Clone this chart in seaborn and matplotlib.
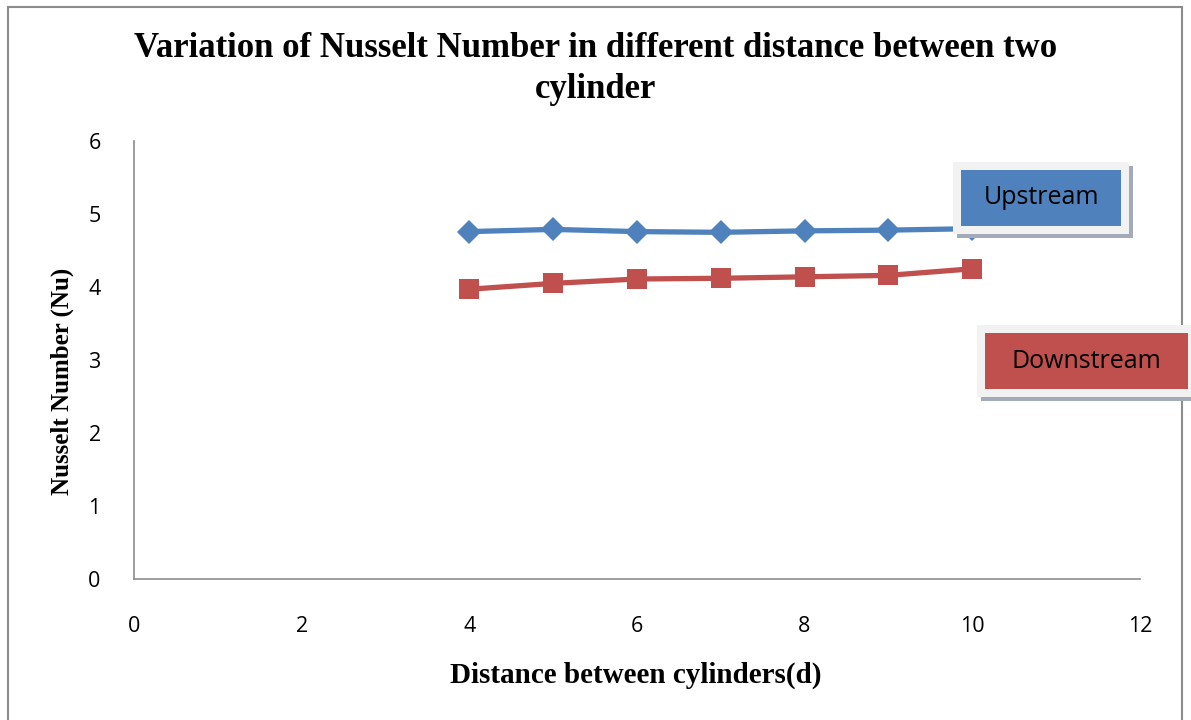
import matplotlib
matplotlib.use("Agg")
import matplotlib.pyplot as plt
import seaborn as sns
import pandas as pd
from matplotlib.patches import Rectangle

distance = [4, 5, 6, 7, 8, 9, 10]
upstream = [4.76, 4.79, 4.76, 4.75, 4.77, 4.78, 4.80]
downstream = [3.97, 4.05, 4.11, 4.12, 4.14, 4.16, 4.25]
series_names = ["Upstream", "Downstream"]
colors = ["#4F81BD", "#C0504D"]

df = pd.concat([
    pd.DataFrame({"d": distance, "Nu": upstream, "series": series_names[0]}),
    pd.DataFrame({"d": distance, "Nu": downstream, "series": series_names[1]}),
])

sns.set_theme(style="white")
plt.rcParams["font.family"] = ["Open Sans", "DejaVu Sans"]
plt.rcParams["text.color"] = "black"

fig = plt.figure(figsize=(11.91, 7.2), dpi=100)
ax = fig.add_axes([0.1125, 0.196, 0.957 - 0.1125, 0.804 - 0.196])

sns.lineplot(data=df[df.series == series_names[0]], x="d", y="Nu", ax=ax,
             color=colors[0], marker="D", markersize=12.5, linewidth=3.8,
             markeredgewidth=0, legend=False)
sns.lineplot(data=df[df.series == series_names[1]], x="d", y="Nu", ax=ax,
             color=colors[1], marker="s", markersize=14, linewidth=3.8,
             markeredgewidth=0, legend=False)

ax.set_xlim(0, 12)
ax.set_ylim(0, 6)
ax.set_xticks(range(0, 13, 2))
ax.set_yticks(range(0, 7))
ax.tick_params(axis="both", length=0, labelsize=15.5, colors="black")
ax.tick_params(axis="x", pad=27)
ax.tick_params(axis="y", pad=24)
for s in ["top", "right"]:
    ax.spines[s].set_visible(False)
for s in ["left", "bottom"]:
    ax.spines[s].set_color("#8C8C8C")
    ax.spines[s].set_linewidth(1.2)

serif = ["Liberation Serif", "DejaVu Serif"]
ax.set_xlabel("Distance between cylinders(d)", fontsize=21, fontweight="bold",
              family=serif, color="black", va="center")
ax.xaxis.set_label_coords(0.499, (579 - 676) / 438)
ax.set_ylabel("Nusselt Number (Nu)", fontsize=18, fontweight="bold",
              family=serif, color="black", va="center")
ax.yaxis.set_label_coords((62 - 134) / 1006, (579 - 381) / 438)
fig.text(0.5, 1 - 69 / 720, "Variation of Nusselt Number in different distance between two\ncylinder",
         ha="center", va="center", fontsize=25, fontweight="bold", family=serif,
         linespacing=1.3, color="black")

# figure border
fig.patches.append(Rectangle((8 / 1191, -0.01), (1182 - 8) / 1191, 1 - 7 / 720 + 0.01,
                             transform=fig.transFigure, fill=False,
                             edgecolor="#8C8C8C", linewidth=1.5))

W, H = 1191, 720
def box(x0, y0, x1, y1, color, label):
    fig.patches.append(Rectangle((x0 / W + 4 / W, 1 - (y1 + 4) / H), (x1 - x0) / W, (y1 - y0) / H,
                                 transform=fig.transFigure, facecolor="#A3ABB8",
                                 edgecolor="none", zorder=5))
    fig.patches.append(Rectangle((x0 / W, 1 - y1 / H), (x1 - x0) / W, (y1 - y0) / H,
                                 transform=fig.transFigure, facecolor="#F2F2F2",
                                 edgecolor="none", zorder=6))
    fig.patches.append(Rectangle(((x0 + 8) / W, 1 - (y1 - 8) / H), (x1 - x0 - 16) / W,
                                 (y1 - y0 - 16) / H, transform=fig.transFigure,
                                 facecolor=color, edgecolor="none", zorder=7))
    fig.text((x0 + x1) / 2 / W, 1 - (y0 + y1) / 2 / H, label, ha="center", va="center",
             fontsize=18, color="black", zorder=8)

box(953, 162, 1129, 234, colors[0], series_names[0])
box(977, 325, 1196, 397, colors[1], series_names[1])

fig.savefig("out.png", dpi=100)
